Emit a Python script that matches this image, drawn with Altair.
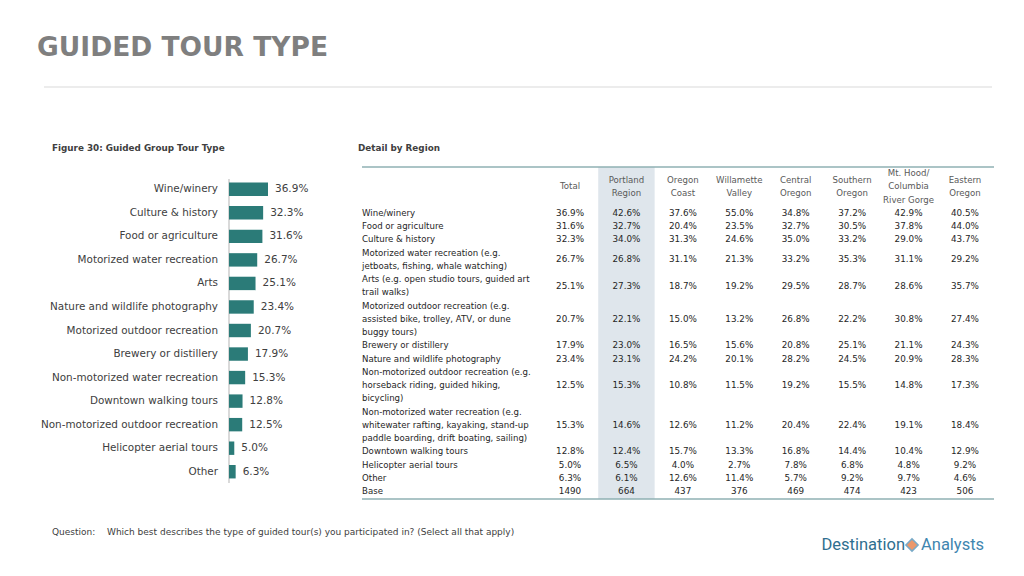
import altair as alt
import pandas as pd

FONT = "DejaVu Sans"

# ---------------- data ----------------
bar_categories = [
    "Wine/winery", "Culture & history", "Food or agriculture",
    "Motorized water recreation", "Arts", "Nature and wildlife photography",
    "Motorized outdoor recreation", "Brewery or distillery",
    "Non-motorized water recreation", "Downtown walking tours",
    "Non-motorized outdoor recreation", "Helicopter aerial tours", "Other",
]
bar_values = [36.9, 32.3, 31.6, 26.7, 25.1, 23.4, 20.7, 17.9, 15.3, 12.8, 12.5, 5.0, 6.3]

table_columns = [
    "Total", "Portland Region", "Oregon Coast", "Willamette Valley",
    "Central Oregon", "Southern Oregon", "Mt. Hood/ Columbia River Gorge", "Eastern Oregon",
]
table_column_lines = [
    ["Total"], ["Portland", "Region"], ["Oregon", "Coast"], ["Willamette", "Valley"],
    ["Central", "Oregon"], ["Southern", "Oregon"], ["Mt. Hood/", "Columbia", "River Gorge"],
    ["Eastern", "Oregon"],
]
table_row_lines = [
    ["Wine/winery"],
    ["Food or agriculture"],
    ["Culture & history"],
    ["Motorized water recreation (e.g.", "jetboats, fishing, whale watching)"],
    ["Arts (e.g. open studio tours, guided art", "trail walks)"],
    ["Motorized outdoor recreation (e.g.", "assisted bike, trolley, ATV, or dune", "buggy tours)"],
    ["Brewery or distillery"],
    ["Nature and wildlife photography"],
    ["Non-motorized outdoor recreation (e.g.", "horseback riding, guided hiking,", "bicycling)"],
    ["Non-motorized water recreation (e.g.", "whitewater rafting, kayaking, stand-up",
     "paddle boarding, drift boating, sailing)"],
    ["Downtown walking tours"],
    ["Helicopter aerial tours"],
    ["Other"],
    ["Base"],
]
total = [36.9, 31.6, 32.3, 26.7, 25.1, 20.7, 17.9, 23.4, 12.5, 15.3, 12.8, 5.0, 6.3, 1490]
portland = [42.6, 32.7, 34.0, 26.8, 27.3, 22.1, 23.0, 23.1, 15.3, 14.6, 12.4, 6.5, 6.1, 664]
oregon_coast = [37.6, 20.4, 31.3, 31.1, 18.7, 15.0, 16.5, 24.2, 10.8, 12.6, 15.7, 4.0, 12.6, 437]
willamette = [55.0, 23.5, 24.6, 21.3, 19.2, 13.2, 15.6, 20.1, 11.5, 11.2, 13.3, 2.7, 11.4, 376]
central = [34.8, 32.7, 35.0, 33.2, 29.5, 26.8, 20.8, 28.2, 19.2, 20.4, 16.8, 7.8, 5.7, 469]
southern = [37.2, 30.5, 33.2, 35.3, 28.7, 22.2, 25.1, 24.5, 15.5, 22.4, 14.4, 6.8, 9.2, 474]
mt_hood = [42.9, 37.8, 29.0, 31.1, 28.6, 30.8, 21.1, 20.9, 14.8, 19.1, 10.4, 4.8, 9.7, 423]
eastern = [40.5, 44.0, 43.7, 29.2, 35.7, 27.4, 24.3, 28.3, 17.3, 18.4, 12.9, 9.2, 4.6, 506]
table_values = [total, portland, oregon_coast, willamette, central, southern, mt_hood, eastern]

# ---------------- tables built from the arrays ----------------
bar_df = pd.DataFrame({
    "category": bar_categories,
    "value": bar_values,
    "label": [f"{v:.1f}%" for v in bar_values],
})

row_label_recs, cell_recs = [], []
line = 0
for r, lines in enumerate(table_row_lines):
    for j, t in enumerate(lines):
        row_label_recs.append({"text": t, "yidx": line + j})
    center = line + (len(lines) - 1) / 2
    is_base = lines[0] == "Base"
    for c, col in enumerate(table_columns):
        v = table_values[c][r]
        cell_recs.append({"col": col, "yidx": center,
                          "text": f"{int(v)}" if is_base else f"{v:.1f}%"})
    line += len(lines)
n_lines = line
row_label_df = pd.DataFrame(row_label_recs)
cell_df = pd.DataFrame(cell_recs)

header_recs = []
for col, lines in zip(table_columns, table_column_lines):
    for j, t in enumerate(lines):
        header_recs.append({"col": col, "text": t, "yidx": -2 - (len(lines) - 1) / 2 + j})
header_df = pd.DataFrame(header_recs)

edge_df = pd.DataFrame({"yidx": [-3.45, n_lines - 0.4]})
shade_df = pd.DataFrame({"col": ["Portland Region"], "y0": [-3.45], "y1": [n_lines - 0.4]})
one = pd.DataFrame({"k": [0]})

# ---------------- scales ----------------
def y_bar():
    return alt.Y("category:N",
                 scale=alt.Scale(type="band", domain=bar_categories, range=[169.5, 475.5],
                                 paddingInner=0.43, paddingOuter=0.215),
                 axis=None)

def x_bar(field="value:Q"):
    return alt.X(field, scale=alt.Scale(domain=[0, 100], range=[221, 326.7], nice=False, zero=True),
                 axis=None)

def x_tab(center=True):
    kw = {"bandPosition": 0.5} if center else {}
    return alt.X("col:N", scale=alt.Scale(type="band", domain=table_columns, range=[533.8, 985.2],
                                          paddingInner=0, paddingOuter=0), axis=None, **kw)

def y_tab(field="yidx:Q"):
    return alt.Y(field, scale=alt.Scale(domain=[-3, n_lines - 1], range=[165, 483], nice=False, zero=False),
                 axis=None)

# ---------------- bar chart ----------------
bar_df2 = bar_df.assign(zero=0.0)
bar_axis = alt.Chart(bar_df2).mark_rule(color="#d9d9d9", strokeWidth=1).encode(
    x=x_bar("zero:Q"), y=alt.value(171), y2=alt.value(475)
)
bars = alt.Chart(bar_df).mark_bar(color="#2b7b78").encode(x=x_bar(), y=y_bar())
bar_labels = alt.Chart(bar_df).mark_text(
    align="left", baseline="middle", dx=7, font=FONT, fontSize=10.5, color="#404040"
).encode(x=x_bar(), y=y_bar(), text="label:N")
cat_labels = alt.Chart(bar_df).mark_text(
    align="right", baseline="middle", font=FONT, fontSize=10.4, color="#404040"
).encode(x=alt.value(210), y=y_bar(), text="category:N")

# ---------------- table ----------------
shade = alt.Chart(shade_df).mark_rect(color="#dfe6ec").encode(
    x=x_tab(center=False), y=y_tab("y0:Q"), y2="y1:Q"
)
edges = alt.Chart(edge_df).mark_rule(color="#8fb0b3", strokeWidth=1.6).encode(
    y=y_tab(), x=alt.value(354), x2=alt.value(986)
)
headers = alt.Chart(header_df).mark_text(
    align="center", baseline="middle", font=FONT, fontSize=8.6, color="#595959"
).encode(x=x_tab(), y=y_tab(), text="text:N")
cells = alt.Chart(cell_df).mark_text(
    align="center", baseline="middle", font=FONT, fontSize=8.8, color="#262626"
).encode(x=x_tab(), y=y_tab(), text="text:N")
row_labels = alt.Chart(row_label_df).mark_text(
    align="left", baseline="middle", font=FONT, fontSize=8.6, color="#262626"
).encode(x=alt.value(354), y=y_tab(), text="text:N")

# ---------------- decoration text ----------------
def label(text, x, y, size, color, weight="normal", align="left", font=FONT, baseline="middle"):
    return alt.Chart(one).mark_text(
        text=text, align=align, baseline=baseline, font=font, fontSize=size,
        color=color, fontWeight=weight
    ).encode(x=alt.value(x), y=alt.value(y))

title = label("GUIDED TOUR TYPE", 29, 48, 26.5, "#7f7f7f", weight="bold", baseline="alphabetic")
title_rule = alt.Chart(one).mark_rule(color="#d9d9d9", strokeWidth=1).encode(
    x=alt.value(36), x2=alt.value(984), y=alt.value(79)
)
fig_title = label("Figure 30: Guided Group Tour Type", 44, 140, 8.8, "#404040", weight="bold")
detail_title = label("Detail by Region", 350, 140, 8.8, "#404040", weight="bold")
q1 = label("Question:", 44, 524, 9, "#404040")
q2 = label("Which best describes the type of guided tour(s) you participated in? (Select all that apply)",
           99, 524, 9, "#404040")
logo1 = label("Destination", 897, 537, 16.5, "#2f6f8f", font="Roboto", align="right")
logo2 = label("Analysts", 913, 537, 16.5, "#3f86b0", font="Roboto")
logo_mark = alt.Chart(one).mark_point(
    shape="diamond", filled=True, color="#e36c2d", size=150, stroke="#3f86b0", strokeWidth=1.5
).encode(x=alt.value(904), y=alt.value(537))

chart = alt.layer(
    shade, edges, bar_axis, bars, bar_labels, cat_labels, headers, cells, row_labels,
    title, title_rule, fig_title, detail_title, q1, q2, logo1, logo2, logo_mark,
).resolve_scale(x="independent", y="independent").properties(
    width=1008, height=560, padding=0, autosize=alt.AutoSizeParams(type="none")
).configure_view(stroke=None)

chart.save("out.html", embed_options={"renderer": "svg", "actions": False})
